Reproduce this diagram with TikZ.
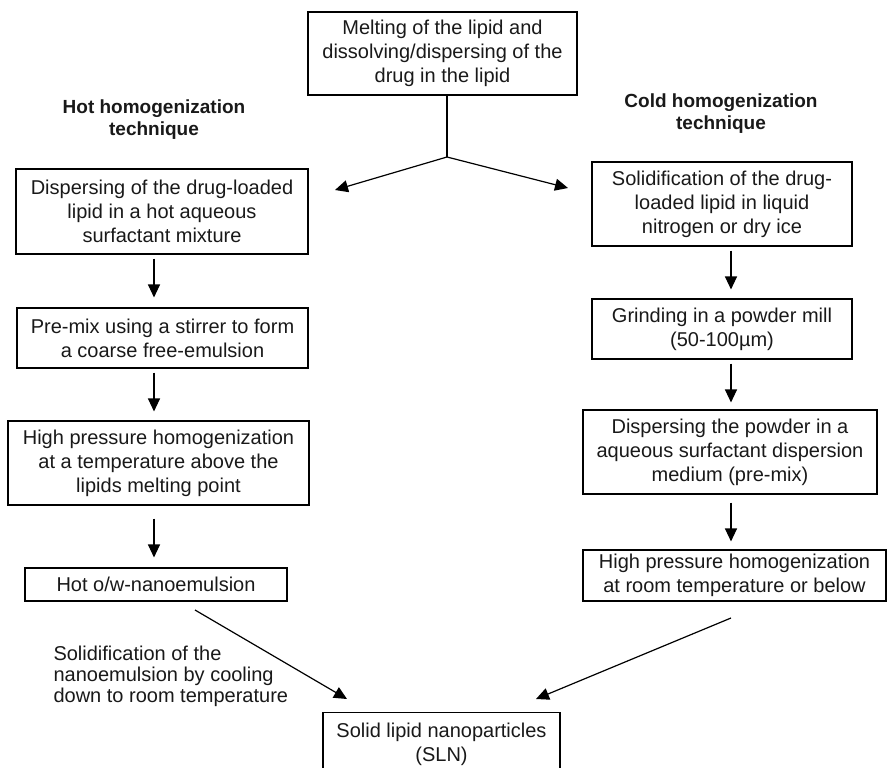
\documentclass[tikz,border=0pt]{standalone}
\usepackage{fontspec}
\setmainfont{Liberation Sans}
\usetikzlibrary{arrows.meta, positioning, calc}
\tikzset{
  base/.style={draw=black, line width=1.1pt, align=center, inner sep=0pt,
               font=\fontsize{20}{24}\selectfont, text=black!90},
  stepbox/.style={base, minimum height=84pt},
  title/.style={font=\fontsize{19}{22}\selectfont\bfseries, align=center, text=black!90},
  note/.style={font=\fontsize{20}{21}\selectfont, align=left, text=black!90},
  line/.style={line width=1.2pt},
  arr/.style={-{Triangle[length=13pt, width=12pt]}, line width=1.2pt},
}

\begin{document}
\begin{tikzpicture}[x=1pt, y=-1pt]
  \clip (0,0) rectangle (887,768);

  % start
  \node[stepbox, minimum width=269pt, minimum height=83pt] (melt) at (442.5,53.5)
       {Melting of the lipid and\\dissolving/dispersing of the\\drug in the lipid};
  \node[title] (hot) at (154,119.5) {Hot homogenization\\technique};
  \node[title] (cold) at (721,114) {Cold homogenization\\technique};

  % hot route
  \node[stepbox, minimum width=292pt, minimum height=85pt] (hotdisp) at (162,211.5)
       {Dispersing of the drug-loaded\\lipid in a hot aqueous\\surfactant mixture};
  \node[base, minimum width=291pt, minimum height=60pt] (premix) at (162.5,338)
       {Pre-mix using a stirrer to form\\a coarse free-emulsion};
  \node[stepbox, minimum width=301pt] (hothph) at (158.5,463)
       {High pressure homogenization\\at a temperature above the\\lipids melting point};
  \node[base, minimum width=262pt, minimum height=33pt] (hotnano) at (156,584.5)
       {Hot o/w-nanoemulsion};

  % cold route
  \node[stepbox, minimum width=260pt] (coldsolid) at (722,204)
       {Solidification of the drug-\\loaded lipid in liquid\\nitrogen or dry ice};
  \node[base, minimum width=260pt, minimum height=60pt] (grind) at (722,329)
       {Grinding in a powder mill\\(50-100µm)};
  \node[stepbox, minimum width=294pt] (colddisp) at (730,452)
       {Dispersing the powder in a\\aqueous surfactant dispersion\\medium (pre-mix)};
  \node[base, minimum width=303pt, minimum height=51pt] (coldhph) at (734.5,575.5)
       {High pressure homogenization\\at room temperature or below};

  % end
  \node[base, minimum width=237pt, minimum height=64pt, anchor=north] (sln) at (441.5,712)
       {Solid lipid nanoparticles\\(SLN)};
  \node[note, anchor=west] (cool) at (50,676)
       {Solidification of the\\nanoemulsion by cooling\\down to room temperature};

  \coordinate (fork) at (447,157);
  \coordinate (hx) at (154,0);
  \coordinate (cx) at (731,0);
  \coordinate (hottip) at (335,190);
  \coordinate (coldtip) at (568,188);
  \coordinate (hotout) at (195,610);
  \coordinate (coldout) at (731,618);
  \coordinate (slnleft) at (347,699);
  \coordinate (slnright) at (536,699);

  \draw[line] (melt.south -| fork) -- (fork);
  \draw[arr] (fork) -- (hottip);
  \draw[arr] (fork) -- (coldtip);

  \draw[arr, shorten <=4pt, shorten >=10pt] (hotdisp.south -| hx) -- (premix.north -| hx);
  \draw[arr, shorten <=4pt, shorten >=9pt] (premix.south -| hx) -- (hothph.north -| hx);
  \draw[arr, shorten <=13pt, shorten >=10pt] (hothph.south -| hx) -- (hotnano.north -| hx);

  \draw[arr, shorten <=4pt, shorten >=9pt] (coldsolid.south -| cx) -- (grind.north -| cx);
  \draw[arr, shorten <=4pt, shorten >=7pt] (grind.south -| cx) -- (colddisp.north -| cx);
  \draw[arr, shorten <=8pt, shorten >=8pt] (colddisp.south -| cx) -- (coldhph.north -| cx);

  \draw[arr] (hotout) -- (slnleft);
  \draw[arr] (coldout) -- (slnright);
\end{tikzpicture}
\end{document}
